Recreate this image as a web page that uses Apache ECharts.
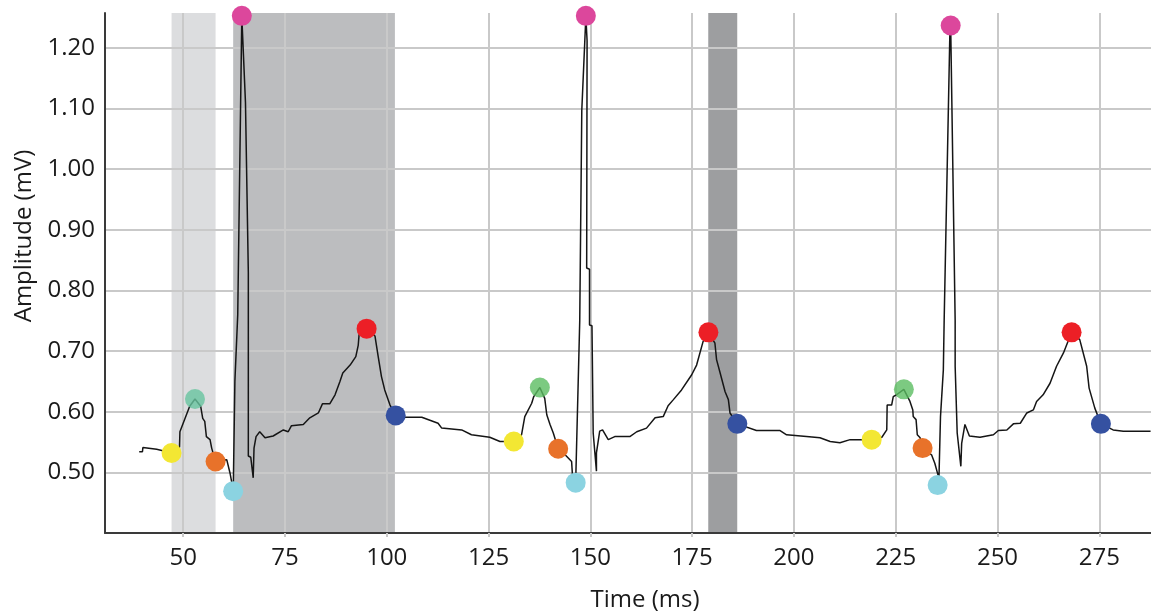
<!DOCTYPE html>
<html>
<head>
<meta charset="utf-8">
<script src="https://cdn.jsdelivr.net/npm/echarts@6/dist/echarts.min.js"></script>
<style>
html,body{margin:0;padding:0;background:#ffffff;}
#chart{width:1151px;height:616px;}
</style>
</head>
<body>
<div id="chart"></div>
<script>
// ---- data ----
const xTicks = [50, 75, 100, 125, 150, 175, 200, 225, 250, 275];
const yTicks = [0.5, 0.6, 0.7, 0.8, 0.9, 1.0, 1.1, 1.2];

const ecgTime = [
  39.2, 40.0, 40.1, 43.5, 46.0, 47.2, 49.1, 49.2, 51.6, 52.9, 54.3, 54.8, 55.3, 55.7, 56.6, 57.0, 57.9,
  60.7, 61.1, 61.5, 62.3, 62.7, 63.4, 64.4, 65.3, 66.0, 66.0, 66.6, 67.2, 67.4, 67.9, 68.8, 70.1, 72.1,
  74.6, 75.8, 76.6, 79.5, 81.1, 83.2, 84.2, 86.0, 87.3, 88.5, 89.2, 91.0, 92.4, 93.0, 93.2, 95.05, 97.1,
  97.9, 98.7, 99.5, 100.8, 102.2, 104.5, 108.6, 110.6, 112.6, 113.5, 118.4, 120.8, 125.3, 127.8, 131.2,
  133.1, 133.9, 135.6, 136.1, 137.6, 138.8, 139.3, 140.1, 140.9, 142.1, 143.8, 145.4, 145.6, 146.4,
  147.4, 147.9, 148.9, 149.2, 149.1, 149.8, 149.8, 150.4, 150.7, 151.5, 151.5, 152.3, 153.0, 154.4,
  156.0, 159.7, 161.4, 163.8, 165.9, 167.9, 169.1, 170.4, 172.4, 174.9, 176.1, 177.7, 179.0, 180.6,
  181.0, 181.8, 183.1, 183.9, 184.3, 186.1, 190.8, 196.6, 198.2, 203.1, 206.4, 208.9, 211.3, 213.8,
  219.1, 221.6, 222.8, 222.9, 224.0, 224.4, 225.2, 227.0, 228.5, 229.2, 229.3, 230.0, 230.3, 231.0,
  231.6, 233.8, 234.6, 235.5, 235.6, 236.0, 236.7, 236.9, 238.3, 238.5, 239.6, 239.6, 240.1, 241.0,
  241.2, 242.0, 243.1, 245.7, 249.0, 250.2, 252.3, 253.9, 255.6, 257.2, 258.8, 259.6, 261.2, 262.9,
  264.5, 266.2, 268.2, 270.2, 271.9, 272.5, 273.9, 275.4, 278.4, 280.9, 287.6
];
const ecgAmp = [
  0.534, 0.534, 0.541, 0.538, 0.534, 0.532, 0.542, 0.567, 0.609, 0.621, 0.609, 0.589, 0.584, 0.559, 0.554, 0.540, 0.519,
  0.521, 0.519, 0.499, 0.470, 0.650, 0.760, 1.252, 1.110, 0.830, 0.527, 0.525, 0.491, 0.540, 0.559, 0.567, 0.557, 0.560,
  0.570, 0.567, 0.577, 0.579, 0.590, 0.598, 0.613, 0.613, 0.628, 0.650, 0.664, 0.677, 0.691, 0.710, 0.727, 0.737, 0.725,
  0.691, 0.658, 0.636, 0.611, 0.594, 0.591, 0.591, 0.586, 0.581, 0.573, 0.570, 0.562, 0.558, 0.551, 0.551,
  0.562, 0.592, 0.614, 0.625, 0.640, 0.622, 0.595, 0.579, 0.565, 0.539, 0.529, 0.518, 0.496, 0.484,
  0.751, 1.097, 1.252, 1.212, 0.837, 0.835, 0.743, 0.742, 0.565, 0.502, 0.532, 0.568, 0.570, 0.554,
  0.559, 0.559, 0.567, 0.573, 0.590, 0.592, 0.610, 0.620, 0.636, 0.661, 0.677, 0.716, 0.731, 0.713,
  0.686, 0.666, 0.633, 0.620, 0.598, 0.580, 0.569, 0.569, 0.562, 0.559, 0.557, 0.551, 0.549, 0.554,
  0.554, 0.558, 0.570, 0.611, 0.611, 0.625, 0.628, 0.637, 0.617, 0.603, 0.592, 0.587, 0.562, 0.557,
  0.540, 0.529, 0.515, 0.493, 0.485, 0.592, 0.669, 0.751, 1.224, 1.237, 0.751, 0.675, 0.565, 0.510,
  0.548, 0.579, 0.560, 0.558, 0.562, 0.569, 0.570, 0.580, 0.581, 0.598, 0.603, 0.617, 0.628, 0.647,
  0.675, 0.697, 0.731, 0.719, 0.675, 0.639, 0.606, 0.580, 0.570, 0.568, 0.568
];

// fiducial points [time, amplitude]
const pOnset  = [[47.15, 0.532], [131.2, 0.551], [219.1, 0.554]];
const pPeak   = [[52.9, 0.621], [137.6, 0.640], [227.0, 0.637]];
const pOffset = [[57.96, 0.518], [142.1, 0.539], [231.6, 0.540]];
const qOnset  = [[62.28, 0.469], [146.4, 0.483], [235.3, 0.479]];
const rPeak   = [[64.4, 1.253], [148.9, 1.253], [238.5, 1.237]];
const tPeak   = [[95.05, 0.737], [179.0, 0.731], [268.2, 0.731]];
const tOffset = [[102.2, 0.594], [186.1, 0.580], [275.4, 0.580]];

// shaded intervals [start, end] in ms
const pWaveBand = [47.15, 57.96];
const qtBand    = [62.28, 102.0];
const tDownBand = [178.96, 186.08];

// ---- chart ----
const ecgData = ecgTime.map((t, i) => [t, ecgAmp[i]]);
const gridColor = '#c9c9c9';
const axisDark = '#3a3a3a';
const textColor = '#1a1a1a';
const fontFam = '"Open Sans", "Noto Sans", sans-serif';

function dots(name, data, color, z) {
  return {
    name: name, type: 'scatter', data: data, symbolSize: 20, z: z || 4,
    itemStyle: { color: color, opacity: 1 }, silent: true
  };
}

const chart = echarts.init(document.getElementById('chart'), null, { renderer: 'canvas' });
chart.setOption({
  animation: false,
  backgroundColor: '#ffffff',
  grid: { left: 105, right: 0, top: 13, bottom: 83, outerBoundsMode: 'none' },
  xAxis: {
    type: 'value', min: 30.8, max: 287.7, z: 2,
    name: 'Time (ms)', nameLocation: 'middle', nameGap: 55,
    nameTextStyle: { fontFamily: fontFam, fontSize: 24, color: textColor, padding: [0, 0, 0, 34] },
    axisLine: { show: true, onZero: false, lineStyle: { color: axisDark, width: 2 } },
    axisTick: { show: true, customValues: xTicks, length: 4, lineStyle: { color: gridColor, width: 2 } },
    axisLabel: { customValues: xTicks, margin: 13, fontFamily: fontFam, fontSize: 24, color: textColor },
    splitLine: { show: true, lineStyle: { color: gridColor, width: 2 } }
  },
  yAxis: {
    type: 'value', min: 0.4, max: 1.2577, z: 2,
    name: 'Amplitude (mV)', nameLocation: 'middle', nameGap: 65, nameRotate: 90,
    nameTextStyle: { fontFamily: fontFam, fontSize: 24, color: textColor, padding: [0, 0, 0, 74] },
    axisLine: { show: true, lineStyle: { color: axisDark, width: 2 } },
    axisTick: { show: false, customValues: yTicks },
    axisLabel: { customValues: yTicks, margin: 10, fontFamily: fontFam, fontSize: 24, color: textColor,
      formatter: v => v.toFixed(2) },
    splitLine: { show: true, lineStyle: { color: gridColor, width: 2 } }
  },
  series: [
    {
      name: 'bands', type: 'line', data: [], z: 1, silent: true,
      markArea: {
        silent: true, z: 1,
        data: [
          [{ xAxis: pWaveBand[0], itemStyle: { color: '#dcdddf' } }, { xAxis: pWaveBand[1] }],
          [{ xAxis: qtBand[0], itemStyle: { color: '#bcbdbf' } }, { xAxis: qtBand[1] }],
          [{ xAxis: tDownBand[0], itemStyle: { color: '#9d9ea0' } }, { xAxis: tDownBand[1] }]
        ]
      }
    },
    {
      name: 'ECG', type: 'line', data: ecgData, z: 3, showSymbol: false, silent: true,
      lineStyle: { color: '#151515', width: 1.5 }, clip: false
    },
    dots('P onset', pOnset, '#f3e733'),
    { ...dots('P peak', pPeak, '#5bbd61'), itemStyle: { color: p => p.dataIndex === 0 ? '#68c49f' : '#5bbd61' } },
    dots('P offset', pOffset, '#e8722a'),
    dots('QRS onset', qOnset, '#8bd3e1'),
    dots('R peak', rPeak, '#dc479c'),
    dots('T peak', tPeak, '#ec1f26'),
    dots('T offset', tOffset, '#3551a1')
  ]
});
</script>
</body>
</html>
